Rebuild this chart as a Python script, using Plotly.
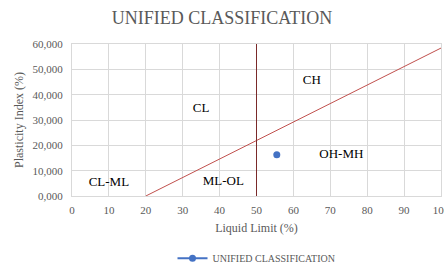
import plotly.graph_objects as go

# Data
point_ll = [55.5]
point_pi = [16.3]
a_line_ll = [20, 100]
a_line_pi = [0, 58.4]
b_line_ll = [50, 50]
b_line_pi = [0, 60]
zone_labels = ["CH", "CL", "CL-ML", "ML-OL", "OH-MH"]
zone_ll = [65, 35, 10, 41, 73]
zone_pi = [45.5, 34.3, 5.1, 5.5, 16.2]
x_ticks = [0, 10, 20, 30, 40, 50, 60, 70, 80, 90, 100]
y_ticks = [0, 10, 20, 30, 40, 50, 60]

font = "Times New Roman"
grid = "#D9D9D9"
tick_col = "#595959"

fig = go.Figure()
fig.add_trace(go.Scatter(x=a_line_ll, y=a_line_pi, mode="lines",
                         line=dict(color="#C0504D", width=1), showlegend=False, hoverinfo="skip"))
fig.add_trace(go.Scatter(x=b_line_ll, y=b_line_pi, mode="lines",
                         line=dict(color="#7A2A2A", width=1), showlegend=False, hoverinfo="skip"))
fig.add_trace(go.Scatter(x=point_ll, y=point_pi, mode="lines+markers", name="UNIFIED CLASSIFICATION",
                         line=dict(color="#4472C4", width=2),
                         marker=dict(color="#4472C4", size=7)))
fig.add_trace(go.Scatter(x=zone_ll, y=zone_pi, mode="text", text=zone_labels,
                         textfont=dict(family=font, size=13, color="black"),
                         showlegend=False, hoverinfo="skip"))

fig.update_layout(
    width=444, height=267,
    margin=dict(l=72, r=3, t=44, b=71, autoexpand=False),
    paper_bgcolor="white", plot_bgcolor="white",
    separators=",.",
    title=dict(text="UNIFIED CLASSIFICATION", x=0.5, xanchor="center", y=0.935, yanchor="middle",
               font=dict(family=font, size=18, color="#595959")),
    font=dict(family=font, color=tick_col),
    legend=dict(orientation="h", x=0.5, xanchor="center", y=-0.41, yanchor="middle",
                font=dict(family=font, size=10, color="#595959")),
)
fig.update_xaxes(range=[0, 100], tickvals=x_ticks, showgrid=True, gridcolor=grid, gridwidth=1,
                 showline=True, linecolor=grid, mirror=True, zeroline=False, ticklabeloverflow="allow",
                 ticklabelstandoff=4,
                 tickfont=dict(family=font, size=11, color=tick_col), ticks="",
                 title=dict(text="Liquid Limit (%)", font=dict(family=font, size=12, color=tick_col), standoff=8))
fig.update_yaxes(range=[0, 60], tickvals=y_ticks, tickformat=".3f", showgrid=True, gridcolor=grid, gridwidth=1,
                 showline=True, linecolor=grid, mirror=True, zeroline=False,
                 ticklabelstandoff=6,
                 tickfont=dict(family=font, size=11, color=tick_col), ticks="",
                 title=dict(text="Plasticity Index (%)", font=dict(family=font, size=12, color=tick_col), standoff=6))

fig.write_html("out.html", post_script="document.body.style.margin='0';",
               config={"displayModeBar": False})
